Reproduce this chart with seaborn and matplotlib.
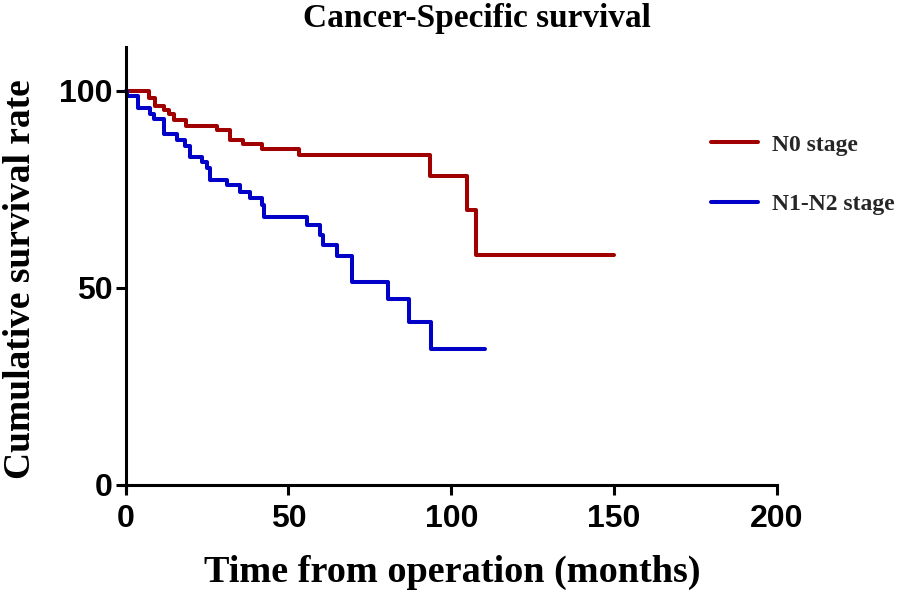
import numpy as np
import pandas as pd
import matplotlib
matplotlib.use("Agg")
import matplotlib.pyplot as plt
from matplotlib import font_manager
from matplotlib.lines import Line2D
import seaborn as sns

# ---- data ----
n0_time = [0, 7.2, 9.2, 11.9, 13.4, 14.8, 18.6, 28.0, 32.1, 36.2, 41.8, 53.3, 93.5, 104.8, 107.7, 150.0]
n0_surv = [100, 98.2, 96.2, 95.1, 94.0, 92.5, 91.1, 90.0, 87.5, 86.5, 85.2, 83.7, 78.4, 69.7, 58.3, 58.3]

n12_time = [0, 0.6, 3.8, 7.6, 8.8, 11.8, 15.8, 18.4, 19.9, 23.5, 25.0, 26.0, 31.1, 35.2, 38.2, 41.8,
            42.6, 55.6, 59.8, 60.6, 64.9, 69.5, 80.7, 86.9, 93.8, 110.4]
n12_surv = [100, 98.6, 95.6, 94.0, 92.7, 88.9, 87.6, 86.1, 83.2, 81.9, 80.3, 77.4, 76.2, 74.4, 72.7, 71.0,
            68.0, 66.0, 63.4, 60.9, 58.1, 51.6, 47.1, 41.3, 34.4, 34.4]

groups = ["N0 stage", "N1-N2 stage"]
colors = ["#A00000", "#0000C8"]
x_ticks = [0, 50, 100, 150, 200]
y_ticks = [0, 50, 100]

title = "Cancer-Specific survival"
xlabel = "Time from operation (months)"
ylabel = "Cumulative survival rate"

df = pd.concat([
    pd.DataFrame({"time": n0_time, "surv": n0_surv, "group": groups[0]}),
    pd.DataFrame({"time": n12_time, "surv": n12_surv, "group": groups[1]}),
], ignore_index=True)


def has_font(name):
    try:
        font_manager.findfont(font_manager.FontProperties(family=name), fallback_to_default=False)
        return True
    except Exception:
        return False


serif = "Liberation Serif" if has_font("Liberation Serif") else "DejaVu Serif"
narrow = None
for cand in ["Liberation Sans Narrow", "Arial Narrow", "DejaVu Sans Condensed", "Liberation Sans"]:
    if has_font(cand):
        narrow = cand
        break
if narrow is None:
    narrow = "DejaVu Sans"

sns.set_theme(style="white")
plt.rcParams["font.family"] = [serif, "DejaVu Sans"]

W, H = 897, 592
fig = plt.figure(figsize=(W / 100, H / 100), dpi=100)

# axis pixel geometry
x0_px, x200_px = 125.5, 777.0
y0_px, y100_px = 485.0, 90.7
px_per_x = (x200_px - x0_px) / 200.0
px_per_y = (y0_px - y100_px) / 100.0
xmin, xmax = -1.5, 200.0
ymin, ymax = -1.5, (y0_px - 47) / px_per_y
left_px = x0_px + xmin * px_per_x
right_px = x0_px + xmax * px_per_x
bottom_px = y0_px - ymin * px_per_y
top_px = y0_px - ymax * px_per_y
ax = fig.add_axes([left_px / W, 1 - bottom_px / H, (right_px - left_px) / W, (bottom_px - top_px) / H])

sns.lineplot(data=df, x="time", y="surv", hue="group", hue_order=groups,
             palette=colors, drawstyle="steps-post", estimator=None, sort=False,
             units="group", lw=2.9, ax=ax, legend=False)

ax.set_xlim(xmin, xmax)
ax.set_ylim(ymin, ymax)
ax.set_facecolor("white")
for s in ["top", "right"]:
    ax.spines[s].set_visible(False)
ax.spines["left"].set_position(("data", 0))
ax.spines["bottom"].set_position(("data", 0))
ax.spines["left"].set_bounds(ymin, ymax)
ax.spines["bottom"].set_bounds(xmin, xmax)
for s in ["left", "bottom"]:
    ax.spines[s].set_linewidth(2.2)
    ax.spines[s].set_color("black")

ax.set_xticks(x_ticks)
ax.set_yticks(y_ticks)
ax.set_xticklabels([str(v) for v in x_ticks])
ax.set_yticklabels([str(v) for v in y_ticks])
ax.tick_params(axis="both", direction="out", length=7.5, width=2.2, color="black",
               bottom=True, left=True)
ax.tick_params(axis="x", pad=6)
ax.tick_params(axis="y", pad=2)
for lab in ax.get_xticklabels() + ax.get_yticklabels():
    lab.set_fontfamily([narrow, "DejaVu Sans"])
    lab.set_fontweight("bold")
    lab.set_fontsize(23)
    lab.set_color("black")

ax.set_xlabel("")
ax.set_ylabel("")
fig.text(452 / W, 1 - 572 / H, xlabel, ha="center", va="center",
         fontsize=27.5, fontweight="bold", family=[serif, "DejaVu Sans"], color="black")
fig.text(21 / W, 1 - 279 / H, ylabel, ha="center", va="center", rotation=90,
         fontsize=27, fontweight="bold", family=[serif, "DejaVu Sans"], color="black")
fig.text(477 / W, 1 - 18 / H, title, ha="center", va="center",
         fontsize=24, fontweight="bold", family=[serif, "DejaVu Sans"], color="black")

# legend
handles = [Line2D([0], [0], color=c, lw=2.9) for c in colors]
fig.legend(handles, groups, loc="upper left", bbox_to_anchor=(711 / W, 1 - 134 / H),
           frameon=False, borderpad=0, borderaxespad=0, handlelength=2.0,
           handletextpad=0.6, labelspacing=1.6,
           prop={"family": [serif, "DejaVu Sans"], "weight": "bold", "size": 17})

fig.savefig("out.png", dpi=100, facecolor="white")
